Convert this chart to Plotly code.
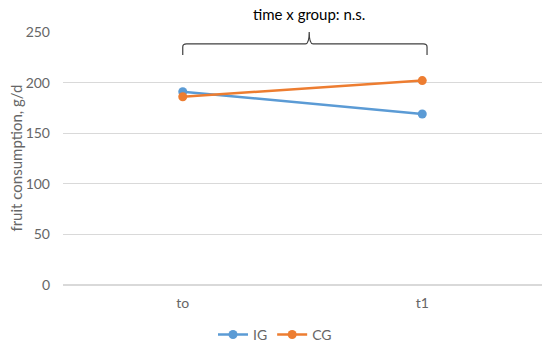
import plotly.graph_objects as go

categories = ["to", "t1"]
ig_values = [191, 169]
cg_values = [186, 202]
y_ticks = [0, 50, 100, 150, 200, 250]

BLUE = "#5B9BD5"
ORANGE = "#ED7D31"
GRAY = "#666666"
FONT = "Lato"

fig = go.Figure()
fig.add_trace(go.Scatter(x=categories, y=ig_values, name="IG", mode="lines+markers",
                         line=dict(color=BLUE, width=2.5), marker=dict(size=9, color=BLUE)))
fig.add_trace(go.Scatter(x=categories, y=cg_values, name="CG", mode="lines+markers",
                         line=dict(color=ORANGE, width=2.5), marker=dict(size=9, color=ORANGE)))

# bracket (paper coordinates)
x0, x1, xm = 0.25, 0.76, 0.514
yb, ye, yt = 0.953, 0.909, 1.0
r = 0.008
path = (f"M {x0},{ye} L {x0},{yb - 0.012} Q {x0},{yb} {x0 + r},{yb} "
        f"L {xm - r},{yb} Q {xm},{yb} {xm},{yt} "
        f"Q {xm},{yb} {xm + r},{yb} L {x1 - r},{yb} Q {x1},{yb} {x1},{yb - 0.012} L {x1},{ye}")
fig.add_shape(type="path", path=path, xref="paper", yref="paper",
              line=dict(color="#404040", width=1.2))

fig.add_annotation(text="time x group: n.s.", x=xm, y=1.071, xref="paper", yref="paper",
                   showarrow=False, font=dict(family=FONT, size=15, color="#000000"),
                   xanchor="center", yanchor="middle")

# y-axis title
fig.add_annotation(text="fruit consumption, g/d", x=-0.1, y=0.5, xref="paper", yref="paper",
                   showarrow=False, textangle=-90, font=dict(family=FONT, size=15, color=GRAY),
                   xanchor="center", yanchor="middle")

fig.update_layout(
    width=550, height=347,
    margin=dict(l=63, r=8, t=32, b=62),
    paper_bgcolor="white", plot_bgcolor="white",
    font=dict(family=FONT, size=14, color=GRAY),
    showlegend=True,
    legend=dict(orientation="h", xref="container", yref="container", x=0.5, y=0.035,
                xanchor="center", yanchor="middle", font=dict(size=14, color=GRAY),
                itemwidth=30),
    xaxis=dict(type="category", range=[-0.5, 1.5], showgrid=False, showline=False,
               ticks="", ticklabelstandoff=8, tickfont=dict(size=14, color=GRAY)),
    yaxis=dict(range=[0, 250], tickvals=y_ticks, showgrid=True, gridcolor="#D9D9D9",
               gridwidth=1, zeroline=True, zerolinecolor="#D9D9D9", showline=False,
               ticks="", ticklabelstandoff=12, tickfont=dict(size=14, color=GRAY)),
)

fig.write_html("out.html", config={"displayModeBar": False},
               post_script="document.body.style.margin='0';")
